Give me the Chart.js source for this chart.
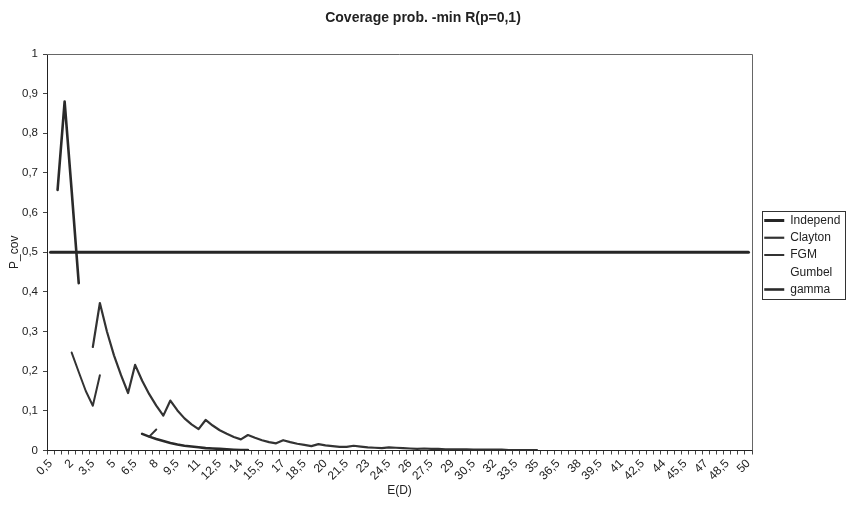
<!DOCTYPE html>
<html>
<head>
<meta charset="utf-8">
<title>Coverage prob. -min R(p=0,1)</title>
<script src="https://cdn.jsdelivr.net/npm/chart.js@4.4.1/dist/chart.umd.min.js"></script>
<style>
  body{margin:0;background:#fff;}
  #wrap{width:846px;height:508px;}
</style>
</head>
<body>
<div id="wrap"><canvas id="myChart" width="846" height="508"></canvas></div>
<script>
'use strict';
// E(D) categories
const eD = [
  0.5,1,1.5,2,2.5,3,3.5,4,4.5,5,
  5.5,6,6.5,7,7.5,8,8.5,9,9.5,10,
  10.5,11,11.5,12,12.5,13,13.5,14,14.5,15,
  15.5,16,16.5,17,17.5,18,18.5,19,19.5,20,
  20.5,21,21.5,22,22.5,23,23.5,24,24.5,25,
  25.5,26,26.5,27,27.5,28,28.5,29,29.5,30,
  30.5,31,31.5,32,32.5,33,33.5,34,34.5,35,
  35.5,36,36.5,37,37.5,38,38.5,39,39.5,40,
  40.5,41,41.5,42,42.5,43,43.5,44,44.5,45,
  45.5,46,46.5,47,47.5,48,48.5,49,49.5,50
];
const yTicks = [0,0.1,0.2,0.3,0.4,0.5,0.6,0.7,0.8,0.9,1];

const independ = [
  0.5,0.5,0.5,0.5,0.5,0.5,0.5,0.5,0.5,0.5,
  0.5,0.5,0.5,0.5,0.5,0.5,0.5,0.5,0.5,0.5,
  0.5,0.5,0.5,0.5,0.5,0.5,0.5,0.5,0.5,0.5,
  0.5,0.5,0.5,0.5,0.5,0.5,0.5,0.5,0.5,0.5,
  0.5,0.5,0.5,0.5,0.5,0.5,0.5,0.5,0.5,0.5,
  0.5,0.5,0.5,0.5,0.5,0.5,0.5,0.5,0.5,0.5,
  0.5,0.5,0.5,0.5,0.5,0.5,0.5,0.5,0.5,0.5,
  0.5,0.5,0.5,0.5,0.5,0.5,0.5,0.5,0.5,0.5,
  0.5,0.5,0.5,0.5,0.5,0.5,0.5,0.5,0.5,0.5,
  0.5,0.5,0.5,0.5,0.5,0.5,0.5,0.5,0.5,0.5
];
const clayton = [
  null,null,null,null,null,null,0.261,0.372,0.300,0.240,
  0.190,0.145,0.216,0.176,0.142,0.113,0.088,0.126,0.101,0.081,
  0.066,0.054,0.077,0.063,0.051,0.042,0.034,0.028,0.039,0.032,
  0.026,0.021,0.018,0.026,0.021,0.017,0.014,0.011,0.016,0.013,
  0.011,0.009,0.009,0.012,0.010,0.008,0.007,0.006,0.008,0.007,
  0.006,0.005,0.004,0.005,0.004,0.004,0.003,0.003,0.003,0.003,
  0.002,0.002,0.002,0.002,0.002,0.001,0.001,0.001,0.001,0.001
];
const fgm = [
  null,null,null,0.247,0.198,0.150,0.113,0.190,null,null,
  null,null,null,null,0.035,0.053
];
const gumbel = [];
const gamma = [
  null,0.657,0.880,0.655,0.422,null,null,null,null,null,
  null,null,null,0.042,0.035,0.029,0.024,0.019,0.015,0.012,
  0.010,0.008,0.006,0.005,0.004,0.003,0.002,0.001,0.001
];

const fontFam = '"Liberation Sans", Arial, Helvetica, sans-serif';
Chart.defaults.font.family = fontFam;
Chart.defaults.color = '#222';

function commaNum(v){
  return String(v).replace('.', ',');
}

// frame on top/right of plot + box round the legend
const framePlugin = {
  id: 'frame',
  afterInit(chart){
    const lg = chart.legend;
    const oldFit = lg.fit;
    lg.fit = function(){
      oldFit.call(this);
      if(!this.isHorizontal()) this.width = 94;
    };
  },
  afterLayout(chart){
    chart.legend.left += 7;
  },
  afterDatasetsDraw(chart){
    const a = chart.chartArea;
    const ctx = chart.ctx;
    ctx.save();
    ctx.strokeStyle = '#666';
    ctx.lineWidth = 1;
    ctx.beginPath();
    ctx.moveTo(a.left, Math.round(a.top) + 0.5);
    ctx.lineTo(Math.round(a.right) + 0.5, Math.round(a.top) + 0.5);
    ctx.lineTo(Math.round(a.right) + 0.5, a.bottom);
    ctx.stroke();
    ctx.restore();
  },
  afterDraw(chart){
    const boxes = chart.legend.legendHitBoxes;
    if(!boxes || !boxes.length) return;
    let top = boxes[0].top;
    let bot = boxes[boxes.length - 1].top + boxes[boxes.length - 1].height;
    let left = boxes[0].left;
    const ctx = chart.ctx;
    ctx.save();
    ctx.strokeStyle = '#333';
    ctx.lineWidth = 1;
    const x0 = Math.round(left - 2), y0 = Math.round(top - 4);
    ctx.strokeRect(x0 + 0.5, y0 + 0.5, 845 - x0, Math.round(bot + 3) - y0);
    ctx.restore();
  }
};

const ctx = document.getElementById('myChart').getContext('2d');
const myChart = new Chart(ctx, {
  type: 'line',
  data: {
    labels: eD,
    datasets: [
      {label: 'Independ', data: independ, borderColor: '#262626', backgroundColor: '#262626', borderWidth: 3},
      {label: 'Clayton', data: clayton, borderColor: '#333', backgroundColor: '#333', borderWidth: 2.2},
      {label: 'FGM', data: fgm, borderColor: '#333', backgroundColor: '#333', borderWidth: 2},
      {label: 'Gumbel', data: gumbel, borderColor: 'rgba(0,0,0,0)', backgroundColor: 'rgba(0,0,0,0)', borderWidth: 1},
      {label: 'gamma', data: gamma, borderColor: '#2a2a2a', backgroundColor: '#2a2a2a', borderWidth: 2.6}
    ]
  },
  options: {
    responsive: false,
    animation: false,
    spanGaps: false,
    elements: {
      point: {radius: 0, hoverRadius: 0},
      line: {tension: 0, borderCapStyle: 'round', borderJoinStyle: 'round'}
    },
    layout: {padding: {left: 0, right: 0, top: 10, bottom: 8}},
    plugins: {
      title: {
        display: true,
        text: 'Coverage prob. -min R(p=0,1)',
        color: '#222',
        font: {size: 14, weight: 'bold'},
        padding: {top: 0, bottom: 27.2}
      },
      legend: {
        position: 'right',
        labels: {
          usePointStyle: true,
          pointStyle: 'line',
          pointStyleWidth: 20,
          padding: 5.25,
          color: '#222',
          font: {size: 12}
        }
      },
      tooltip: {enabled: false}
    },
    scales: {
      x: {
        offset: true,
        grid: {display: true, drawOnChartArea: false, drawTicks: true, tickLength: 4, color: '#444', offset: true},
        border: {display: true, color: '#222', width: 1},
        ticks: {
          autoSkip: false,
          maxRotation: 45,
          minRotation: 45,
          padding: 2,
          color: '#222',
          font: {size: 12},
          callback: function(v, i){
            return i % 3 === 0 ? commaNum(eD[i]) : '';
          }
        },
        title: {display: true, text: 'E(D)', color: '#222', font: {size: 12}, padding: {top: 0, bottom: 2}},
        afterFit: function(s){ s.height = 49.5; }
      },
      y: {
        min: 0,
        max: 1,
        afterBuildTicks: function(s){ s.ticks = yTicks.map(v => ({value: v})); },
        grid: {display: true, drawOnChartArea: false, drawTicks: true, tickLength: 4, color: '#444'},
        border: {display: true, color: '#222', width: 1},
        ticks: {
          padding: 5,
          color: '#222',
          font: {size: 11.5},
          callback: function(v){ return commaNum(Math.round(v * 10) / 10); }
        },
        title: {display: true, text: 'P_cov', color: '#222', font: {size: 12}, padding: {top: 7, bottom: 0}},
        afterFit: function(s){ s.width = 47; }
      }
    }
  },
  plugins: [framePlugin]
});
</script>
</body>
</html>
